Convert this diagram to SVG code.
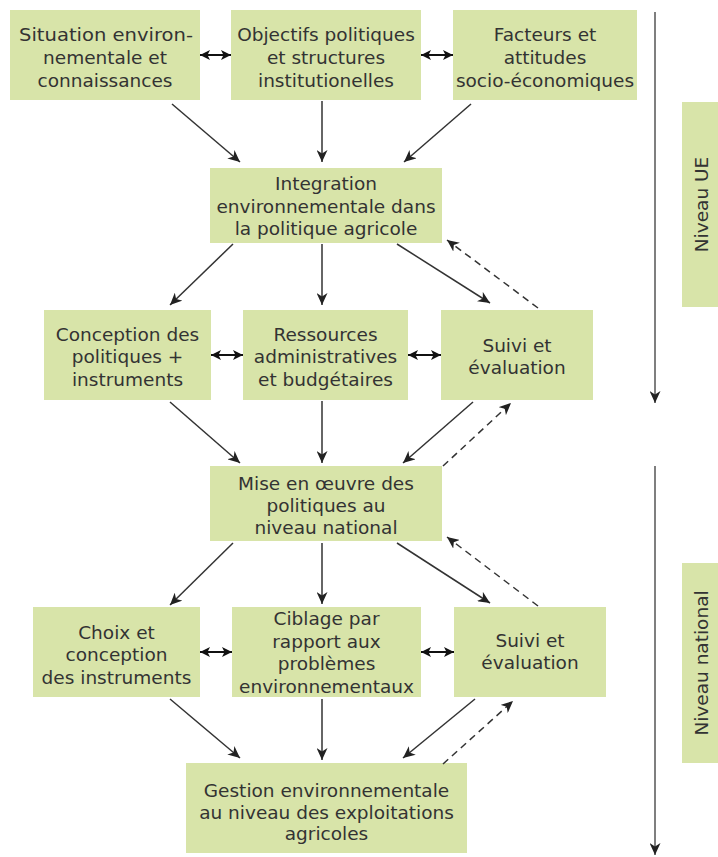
<svg xmlns="http://www.w3.org/2000/svg" width="718" height="857" viewBox="0 0 718 857">
<defs>
<style>
.box{fill:#d8e4a9;}
.t{font-family:"DejaVu Sans",Verdana,sans-serif;font-size:18.5px;fill:#333;text-anchor:middle;}
.c{fill:none;stroke:#333;stroke-width:1.5;}
.d{fill:none;stroke:#333;stroke-width:1.5;stroke-dasharray:7,5;}
.dbl{fill:none;stroke:#111;stroke-width:2;}
.side{fill:none;stroke:#555;stroke-width:1.5;}
</style>
<marker id="ah" markerUnits="userSpaceOnUse" markerWidth="13" markerHeight="11" refX="12" refY="5.5" orient="auto" viewBox="0 0 13 11">
<path d="M0,0 L12,5.5 L0,11 L3.5,5.5 z" fill="#222"/>
</marker>
<marker id="ah2" markerUnits="userSpaceOnUse" markerWidth="10" markerHeight="10" refX="10" refY="5" orient="auto-start-reverse" viewBox="0 0 10 10">
<path d="M0,0 L10,5 L0,10 L2.5,5 z" fill="#111"/>
</marker>
</defs>
<rect width="718" height="857" fill="#fff"/>

<g id="n-situation">
<rect class="box" x="10" y="10" width="190" height="90"/>
<text class="t" x="106" y="40.5" textLength="174" lengthAdjust="spacingAndGlyphs">Situation environ-</text>
<text class="t" x="105" y="63.5">nementale et</text>
<text class="t" x="105" y="86.5">connaissances</text>
</g>
<g id="n-objectifs">
<rect class="box" x="231" y="10" width="190" height="90"/>
<text class="t" x="326" y="40.5">Objectifs politiques</text>
<text class="t" x="326" y="63.5">et structures</text>
<text class="t" x="326" y="86.5">institutionelles</text>
</g>
<g id="n-facteurs">
<rect class="box" x="453" y="10" width="184" height="90"/>
<text class="t" x="545" y="40.5">Facteurs et</text>
<text class="t" x="545" y="63.5">attitudes</text>
<text class="t" x="545" y="86.5">socio-économiques</text>
</g>
<g id="n-integration">
<rect class="box" x="210" y="168" width="232" height="75"/>
<text class="t" x="326" y="189.5">Integration</text>
<text class="t" x="326" y="212.5">environnementale dans</text>
<text class="t" x="326" y="234.5">la politique agricole</text>
</g>
<g id="n-conception">
<rect class="box" x="44" y="310" width="167" height="90"/>
<text class="t" x="127.5" y="340.5">Conception des</text>
<text class="t" x="127.5" y="363">politiques +</text>
<text class="t" x="127.5" y="385.5">instruments</text>
</g>
<g id="n-ressources">
<rect class="box" x="243" y="310" width="165" height="90"/>
<text class="t" x="325.5" y="340.5">Ressources</text>
<text class="t" x="325.5" y="363">administratives</text>
<text class="t" x="325.5" y="385.5">et budgétaires</text>
</g>
<g id="n-suivi1">
<rect class="box" x="441" y="310" width="152" height="90"/>
<text class="t" x="517" y="351.5">Suivi et</text>
<text class="t" x="517" y="374">évaluation</text>
</g>
<g id="n-mise">
<rect class="box" x="210" y="466" width="232" height="75"/>
<text class="t" x="326" y="489.5">Mise en œuvre des</text>
<text class="t" x="326" y="511.5">politiques au</text>
<text class="t" x="326" y="533.5">niveau national</text>
</g>
<g id="n-choix">
<rect class="box" x="33" y="607" width="167" height="90"/>
<text class="t" x="116.5" y="638.5">Choix et</text>
<text class="t" x="116.5" y="660.5">conception</text>
<text class="t" x="116.5" y="683.5">des instruments</text>
</g>
<g id="n-ciblage">
<rect class="box" x="232" y="607" width="189" height="90"/>
<text class="t" x="326.5" y="624.5">Ciblage par</text>
<text class="t" x="326.5" y="647.5">rapport aux</text>
<text class="t" x="326.5" y="669.5">problèmes</text>
<text class="t" x="326.5" y="692.5">environnementaux</text>
</g>
<g id="n-suivi2">
<rect class="box" x="454" y="607" width="152" height="90"/>
<text class="t" x="530" y="646.5">Suivi et</text>
<text class="t" x="530" y="668.5">évaluation</text>
</g>
<g id="n-gestion">
<rect class="box" x="186" y="763" width="281" height="90"/>
<text class="t" x="326.5" y="796.5">Gestion environnementale</text>
<text class="t" x="326.5" y="818.5">au niveau des exploitations</text>
<text class="t" x="326.5" y="840">agricoles</text>
</g>
<g id="n-niveau-ue">
<rect class="box" x="682" y="102" width="36" height="205"/>
<text class="t" transform="translate(708,204.5) rotate(-90)" x="0" y="0">Niveau UE</text>
</g>
<g id="n-niveau-national">
<rect class="box" x="682" y="563" width="36" height="200"/>
<text class="t" transform="translate(708,663) rotate(-90)" x="0" y="0">Niveau national</text>
</g>

<g id="connectors">
<line class="c" x1="172" y1="104" x2="240" y2="162" marker-end="url(#ah)"/>
<line class="c" x1="322" y1="101" x2="322" y2="162" marker-end="url(#ah)"/>
<line class="c" x1="471" y1="104" x2="404" y2="162" marker-end="url(#ah)"/>

<line class="c" x1="233" y1="244" x2="170" y2="305" marker-end="url(#ah)"/>
<line class="c" x1="322" y1="244" x2="322" y2="305" marker-end="url(#ah)"/>
<line class="c" x1="397" y1="244" x2="490" y2="303" marker-end="url(#ah)"/>
<line class="d" x1="538" y1="308" x2="447" y2="240" marker-end="url(#ah)"/>

<line class="c" x1="170" y1="402" x2="240" y2="463" marker-end="url(#ah)"/>
<line class="c" x1="322" y1="401" x2="322" y2="463" marker-end="url(#ah)"/>
<line class="c" x1="473" y1="402" x2="403" y2="463" marker-end="url(#ah)"/>
<line class="d" x1="443" y1="466" x2="511" y2="403" marker-end="url(#ah)"/>

<line class="c" x1="233" y1="543" x2="170" y2="605" marker-end="url(#ah)"/>
<line class="c" x1="322" y1="543" x2="322" y2="604" marker-end="url(#ah)"/>
<line class="c" x1="397" y1="543" x2="490" y2="603" marker-end="url(#ah)"/>
<line class="d" x1="538" y1="606" x2="447" y2="537" marker-end="url(#ah)"/>

<line class="c" x1="170" y1="699" x2="240" y2="758" marker-end="url(#ah)"/>
<line class="c" x1="322" y1="699" x2="322" y2="760" marker-end="url(#ah)"/>
<line class="c" x1="475" y1="699" x2="403" y2="758" marker-end="url(#ah)"/>
<line class="d" x1="443" y1="764" x2="513" y2="701" marker-end="url(#ah)"/>

<line class="dbl" x1="200" y1="55" x2="231" y2="55" marker-start="url(#ah2)" marker-end="url(#ah2)"/>
<line class="dbl" x1="421" y1="55" x2="453" y2="55" marker-start="url(#ah2)" marker-end="url(#ah2)"/>
<line class="dbl" x1="211" y1="355" x2="243" y2="355" marker-start="url(#ah2)" marker-end="url(#ah2)"/>
<line class="dbl" x1="408" y1="355" x2="441" y2="355" marker-start="url(#ah2)" marker-end="url(#ah2)"/>
<line class="dbl" x1="200" y1="652" x2="232" y2="652" marker-start="url(#ah2)" marker-end="url(#ah2)"/>
<line class="dbl" x1="421" y1="652" x2="454" y2="652" marker-start="url(#ah2)" marker-end="url(#ah2)"/>

<line class="side" x1="655" y1="12" x2="655" y2="403" marker-end="url(#ah)"/>
<line class="side" x1="655" y1="466" x2="655" y2="855" marker-end="url(#ah)"/>
</g>
</svg>
